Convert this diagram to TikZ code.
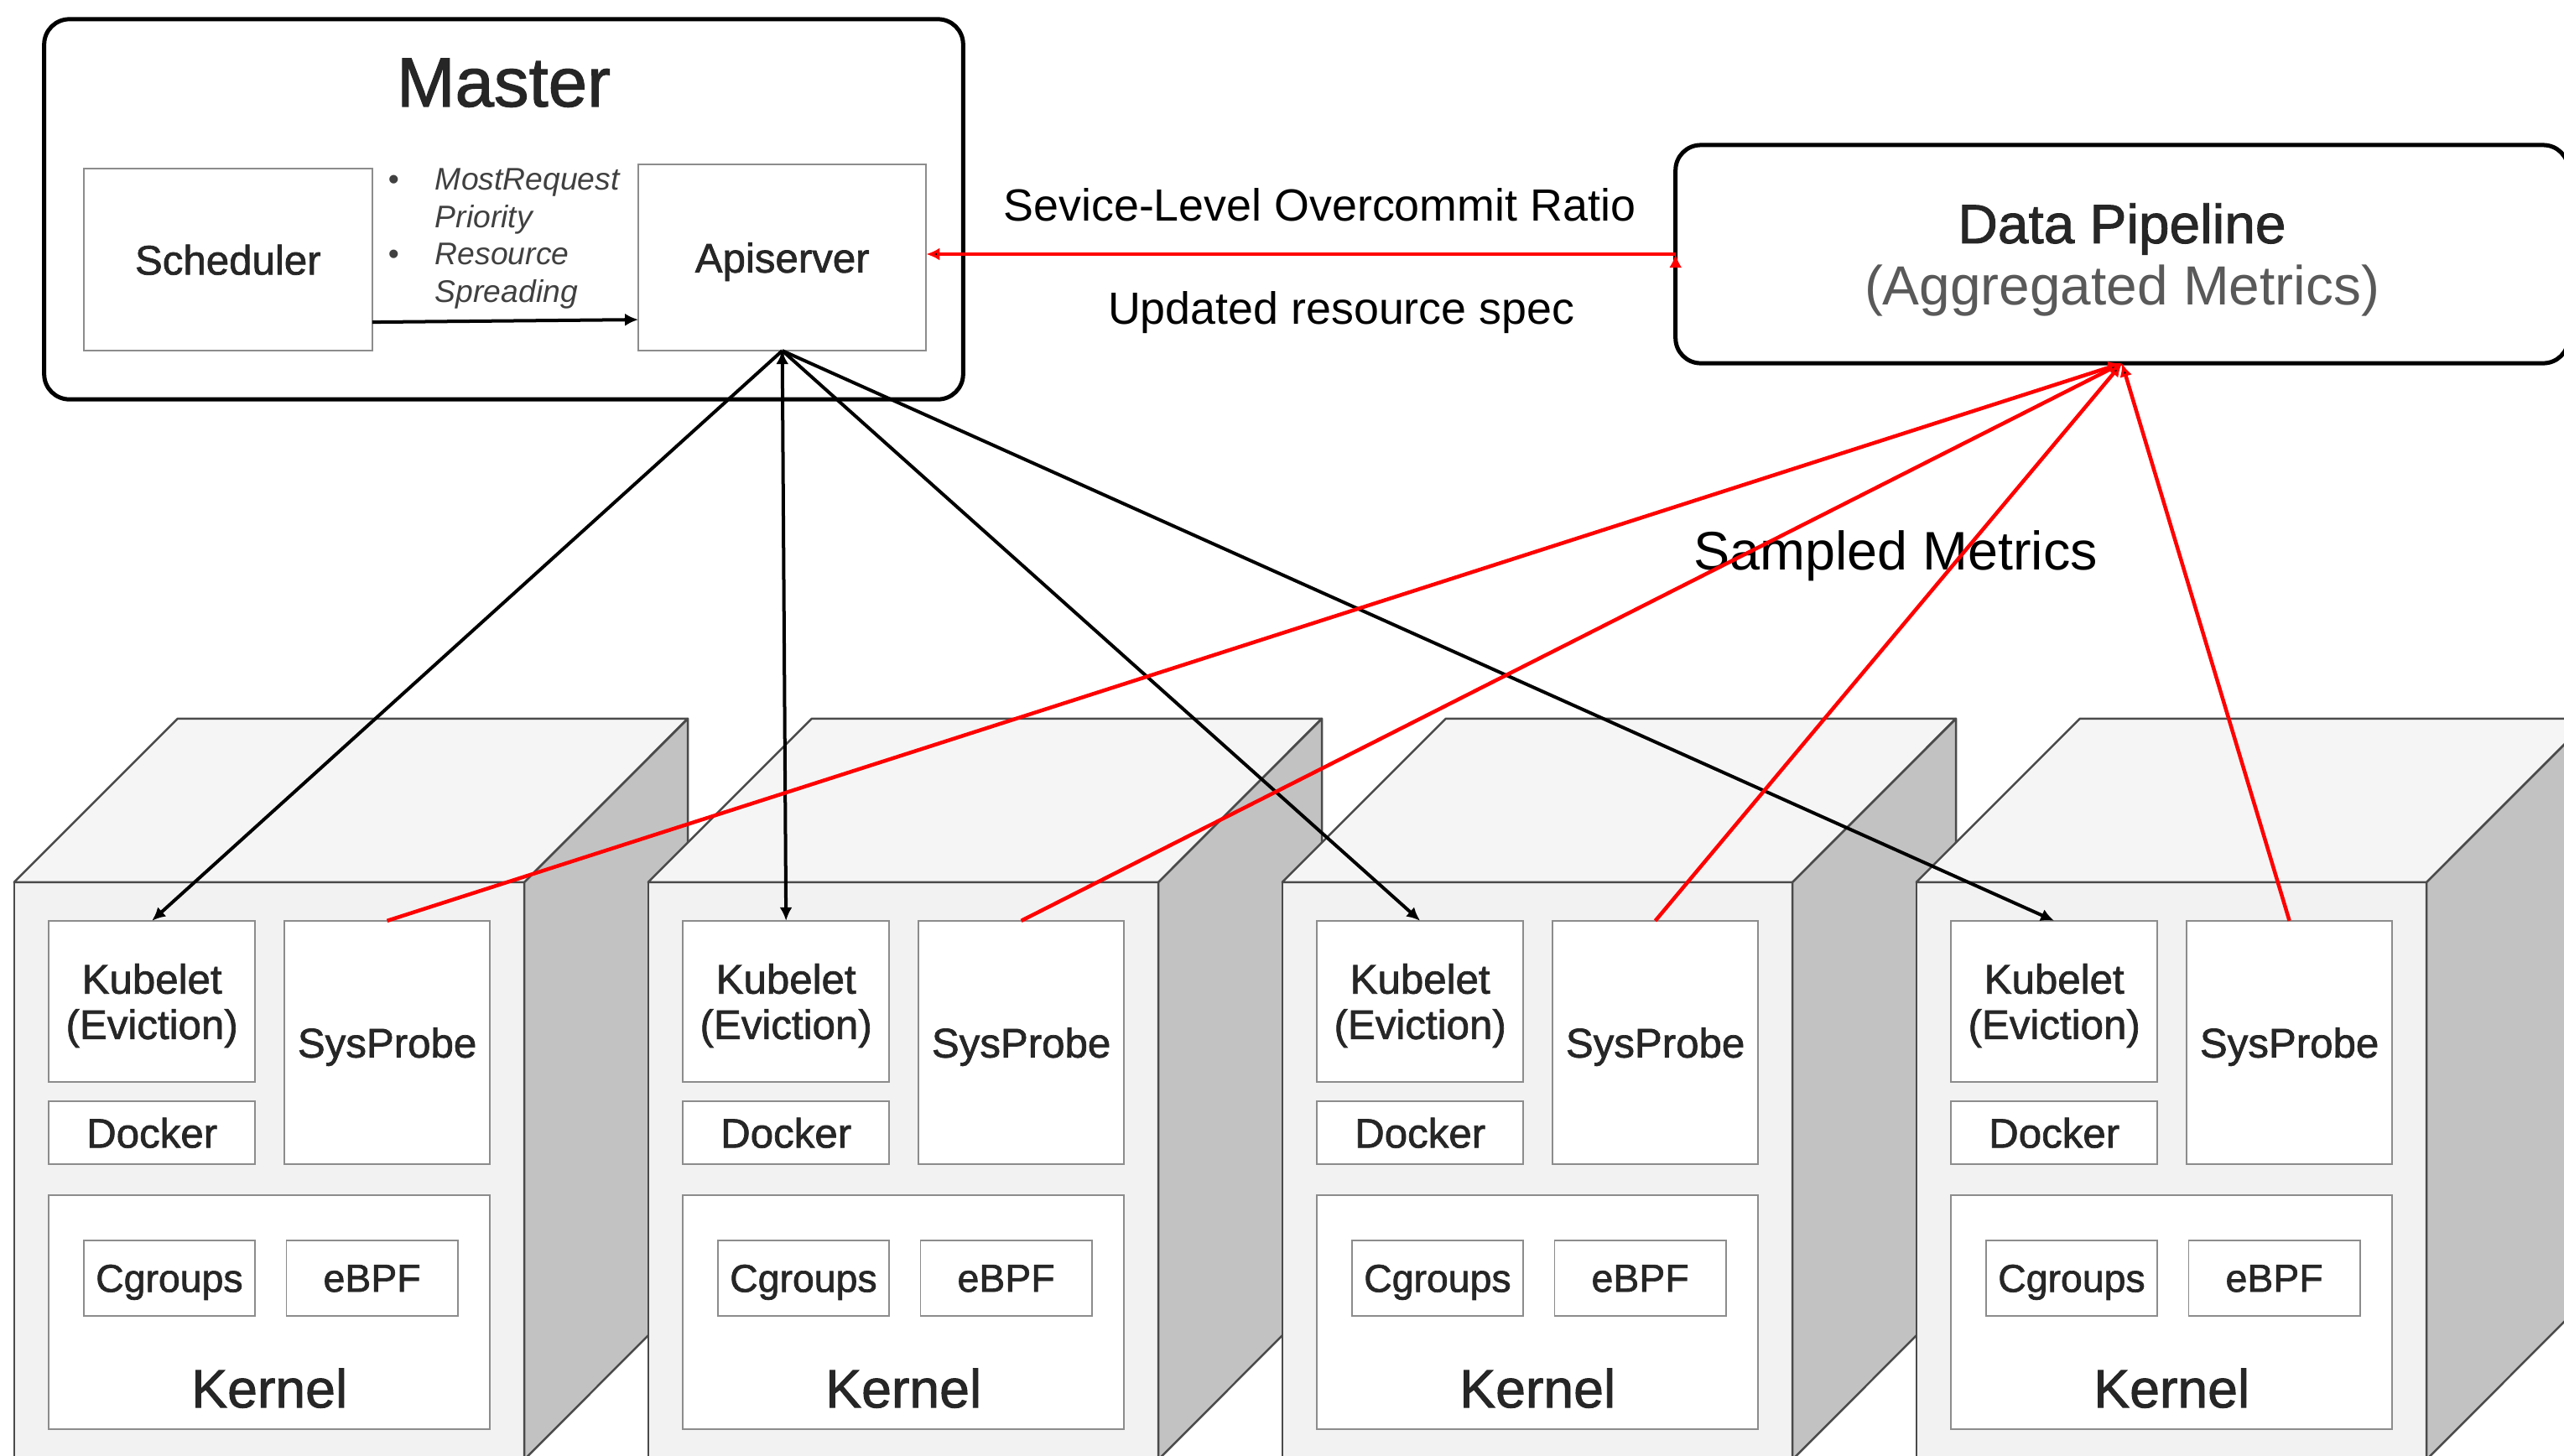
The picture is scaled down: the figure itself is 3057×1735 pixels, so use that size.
\documentclass[tikz,border=0pt]{standalone}
\usepackage{fontspec}
\setmainfont{Liberation Sans}
\newfontfamily\medfont[FakeBold=1.4]{Liberation Sans}
\usepackage{tikz}
\usetikzlibrary{positioning, arrows.meta}

\definecolor{cubeline}{HTML}{4A4A4A}
\definecolor{frontgray}{HTML}{F2F2F2}
\definecolor{topgray}{HTML}{F5F5F5}
\definecolor{sidegray}{HTML}{C2C2C2}
\definecolor{boxline}{HTML}{8C8C8C}
\definecolor{textdark}{HTML}{262626}
\definecolor{aggrgray}{HTML}{595959}
\definecolor{itgray}{HTML}{404040}

\begin{document}
\begin{tikzpicture}[x=0.01cm, y=-0.01cm, inner sep=0pt, outer sep=0pt,
    panel/.style={draw=black, line width=0.05cm, rounded corners=0.3cm, fill=white},
    unit/.style={draw=boxline, line width=0.5pt, fill=white, text=textdark, align=center,
      text depth=0pt, font=\medfont\fontsize{14}{15.4}\selectfont},
    chip/.style={unit, minimum width=2.04cm, minimum height=0.9cm,
      font=\medfont\fontsize{13.2}{15}\selectfont},
    kubebox/.style={unit, minimum width=2.455cm, minimum height=1.92cm},
    dockerbox/.style={unit, minimum width=2.455cm, minimum height=0.75cm},
    probebox/.style={unit, minimum width=2.45cm, minimum height=2.9cm},
    kernelbox/.style={unit, minimum width=5.255cm, minimum height=2.79cm,
      label={[anchor=base, yshift=0.26cm, text=textdark,
        font=\medfont\fontsize{18.3}{20}\selectfont]south:Kernel}},
    frontface/.style={draw=cubeline, line width=0.7pt, fill=frontgray,
      minimum width=6.08cm, minimum height=6.88cm},
    topface/.style={draw=cubeline, line width=0.7pt, fill=topgray, line join=round},
    sideface/.style={draw=cubeline, line width=0.7pt, fill=sidegray, line join=round},
    cmd/.style={draw=black, line width=0.04cm, -{Latex[length=0.16cm, width=0.15cm]}},
    metric/.style={draw=red, line width=0.045cm, -{Latex[length=0.16cm, width=0.15cm]}},
    lbl/.style={text=black, font=\fontsize{15.3}{17}\selectfont}]

    \path[fill=white, use as bounding box] (0,0) rectangle (3057,1735);
    \clip (0,0) rectangle (3057,1735);

    % control plane
    \node[panel, minimum width=10.95cm, minimum height=4.53cm,
      label={[anchor=base, yshift=-1.04cm, text=textdark,
        font=\medfont\fontsize{23.7}{26}\selectfont]north:Master}] (master) at (600.5,249.5) {};
    \node[unit, minimum width=3.44cm, minimum height=2.17cm,
      below right=1.78cm and 0.47cm of master.north west] (sched) {Scheduler};
    \node[unit, minimum width=3.43cm, minimum height=2.22cm,
      above right=0cm and 3.17cm of sched.south east] (api) {Apiserver};
    \node[align=left, text=itgray, font=\itshape\fontsize{10.6}{12.7}\selectfont,
      below right=0cm and 0.19cm of sched.north east] (policy)
      {\makebox[5.6mm][l]{\upshape\textbullet}MostRequest\\
       \hspace*{5.6mm}Priority\\
       \makebox[5.6mm][l]{\upshape\textbullet}Resource\\
       \hspace*{5.6mm}Spreading};

    \node[panel, minimum width=10.64cm, minimum height=2.6cm, align=center, text=textdark,
      text depth=0pt, font=\fontsize{18.7}{21}\selectfont] (dp) at (2530,303)
      {{\medfont Data Pipeline}\\{\color{aggrgray}(Aggregated Metrics)}};

    \node[text=black, font=\fontsize{18.4}{20}\selectfont] (sampled) at (2260,663) {Sampled Metrics};

    % node 1
    \node[frontface] (c1) at (321,1396) {};
    \draw[topface] (c1.north west) -- ++(195,-195) -- ++(608,0) -- (c1.north east) -- cycle;
    \draw[sideface] (c1.north east) -- ++(195,-195) -- ++(0,688) -- (c1.south east) -- cycle;
    \node[kubebox, below right=0.46cm and 0.415cm of c1.north west] (k1) {Kubelet\\(Eviction)};
    \node[dockerbox, below=0.23cm of k1] (d1) {Docker};
    \node[probebox, below right=0cm and 0.35cm of k1.north east] (s1) {SysProbe};
    \node[kernelbox, below right=0.37cm and 0cm of d1.south west] (kn1) {};
    \node[chip, below right=0.54cm and 0.415cm of kn1.north west] (cg1) {Cgroups};
    \node[chip, right=0.375cm of cg1] (bpf1) {eBPF};

    % node 2
    \node[frontface] (c2) at (1077,1396) {};
    \draw[topface] (c2.north west) -- ++(195,-195) -- ++(608,0) -- (c2.north east) -- cycle;
    \draw[sideface] (c2.north east) -- ++(195,-195) -- ++(0,688) -- (c2.south east) -- cycle;
    \node[kubebox, below right=0.46cm and 0.415cm of c2.north west] (k2) {Kubelet\\(Eviction)};
    \node[dockerbox, below=0.23cm of k2] (d2) {Docker};
    \node[probebox, below right=0cm and 0.35cm of k2.north east] (s2) {SysProbe};
    \node[kernelbox, below right=0.37cm and 0cm of d2.south west] (kn2) {};
    \node[chip, below right=0.54cm and 0.415cm of kn2.north west] (cg2) {Cgroups};
    \node[chip, right=0.375cm of cg2] (bpf2) {eBPF};

    % node 3
    \node[frontface] (c3) at (1833,1396) {};
    \draw[topface] (c3.north west) -- ++(195,-195) -- ++(608,0) -- (c3.north east) -- cycle;
    \draw[sideface] (c3.north east) -- ++(195,-195) -- ++(0,688) -- (c3.south east) -- cycle;
    \node[kubebox, below right=0.46cm and 0.415cm of c3.north west] (k3) {Kubelet\\(Eviction)};
    \node[dockerbox, below=0.23cm of k3] (d3) {Docker};
    \node[probebox, below right=0cm and 0.35cm of k3.north east] (s3) {SysProbe};
    \node[kernelbox, below right=0.37cm and 0cm of d3.south west] (kn3) {};
    \node[chip, below right=0.54cm and 0.415cm of kn3.north west] (cg3) {Cgroups};
    \node[chip, right=0.375cm of cg3] (bpf3) {eBPF};

    % node 4
    \node[frontface] (c4) at (2589,1396) {};
    \draw[topface] (c4.north west) -- ++(195,-195) -- ++(608,0) -- (c4.north east) -- cycle;
    \draw[sideface] (c4.north east) -- ++(195,-195) -- ++(0,688) -- (c4.south east) -- cycle;
    \node[kubebox, below right=0.46cm and 0.415cm of c4.north west] (k4) {Kubelet\\(Eviction)};
    \node[dockerbox, below=0.23cm of k4] (d4) {Docker};
    \node[probebox, below right=0cm and 0.35cm of k4.north east] (s4) {SysProbe};
    \node[kernelbox, below right=0.37cm and 0cm of d4.south west] (kn4) {};
    \node[chip, below right=0.54cm and 0.415cm of kn4.north west] (cg4) {Cgroups};
    \node[chip, right=0.375cm of cg4] (bpf4) {eBPF};

    \path[cmd]
    ([yshift=-7.45mm]sched.east) edge ([yshift=-7.4mm]api.west)
    (api.south) edge (k1.north)
    (api.south) edge (k2.north)
    (api.south) edge (k3.north)
    (api.south) edge (k4.north);

    \path[metric]
    (s1.north) edge (dp.south)
    (s2.north) edge (dp.south)
    (s3.north) edge (dp.south)
    (s4.north) edge (dp.south)
    (dp.west) edge node[lbl, above=0.39cm, pos=0.475] {Sevice-Level Overcommit Ratio}
                   node[lbl, below=0.44cm, pos=0.446] {Updated resource spec} (dp.west -| api.east);

\end{tikzpicture}
\end{document}
